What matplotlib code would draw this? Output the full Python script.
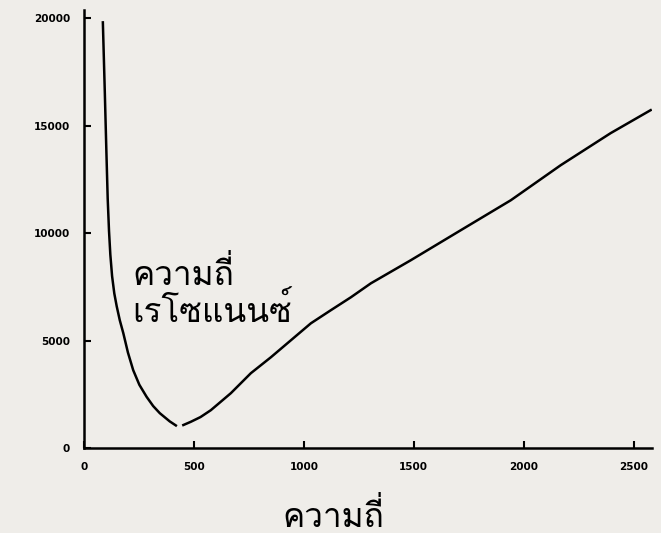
import matplotlib
matplotlib.use("Agg")
import matplotlib.pyplot as plt
from matplotlib import font_manager
from matplotlib.ft2font import FT2Font

# resonance curve (two pieces, small break at the minimum)
freq_left = [86, 95, 102, 108, 114, 120, 128, 138, 149, 163, 179, 200, 224, 252,
             285, 315, 345, 390, 418]
value_left = [19800, 16500, 13800, 11600, 10100, 9000, 8000, 7200, 6600, 5950, 5350,
              4450, 3630, 2950, 2390, 1960, 1630, 1250, 1060]
freq_right = [452, 486, 530, 577, 668, 759, 850, 941, 1032, 1123, 1214, 1305,
              1486, 1714, 1941, 2168, 2395, 2577]
value_right = [1080, 1230, 1450, 1770, 2560, 3490, 4230, 5020, 5810, 6420, 7020, 7670,
               8740, 10140, 11530, 13160, 14650, 15720]

xticks = [0, 500, 1000, 1500, 2000, 2500]
yticks = [0, 5000, 10000, 15000, 20000]
xlabel = "ความถี่"
note = "ความถี่\nเรโซแนนซ์"


def thai_font():
    # pick any installed font that has Thai glyphs
    for f in font_manager.fontManager.ttflist:
        try:
            ft = FT2Font(f.fname)
            if ft.get_char_index(0x0E04) and ft.get_char_index(0x0E35):
                return f.name
        except Exception:
            pass
    return "DejaVu Sans"


tfont = thai_font()
paper = "#efede9"

fig = plt.figure(figsize=(6.61, 5.33), dpi=100, facecolor=paper)
ax = fig.add_axes([0.127, 0.159, 0.86, 0.822], facecolor=paper)

ax.plot(freq_left, value_left, color="black", lw=1.8)
ax.plot(freq_right, value_right, color="black", lw=1.8)

ax.set_xlim(0, 2585)
ax.set_ylim(0, 20370)
ax.spines["top"].set_visible(False)
ax.spines["right"].set_visible(False)
for s in ("left", "bottom"):
    ax.spines[s].set_linewidth(1.8)

ax.set_xticks(xticks)
ax.set_yticks(yticks)
ax.set_xticklabels([str(t) for t in xticks], fontsize=7.5, fontweight="bold")
ax.set_yticklabels([str(t) for t in yticks], fontsize=7.5, fontweight="bold")
ax.tick_params(direction="in", length=5, width=1.5, pad=10)

fig.text(0.504, 0.012, xlabel, family=tfont, fontsize=24,
         ha="center", va="baseline")

ax.text(218, 5860, note, family=tfont, fontsize=24, linespacing=1.05,
        ha="left", va="baseline")

fig.savefig("out.png", dpi=100, facecolor=paper)
